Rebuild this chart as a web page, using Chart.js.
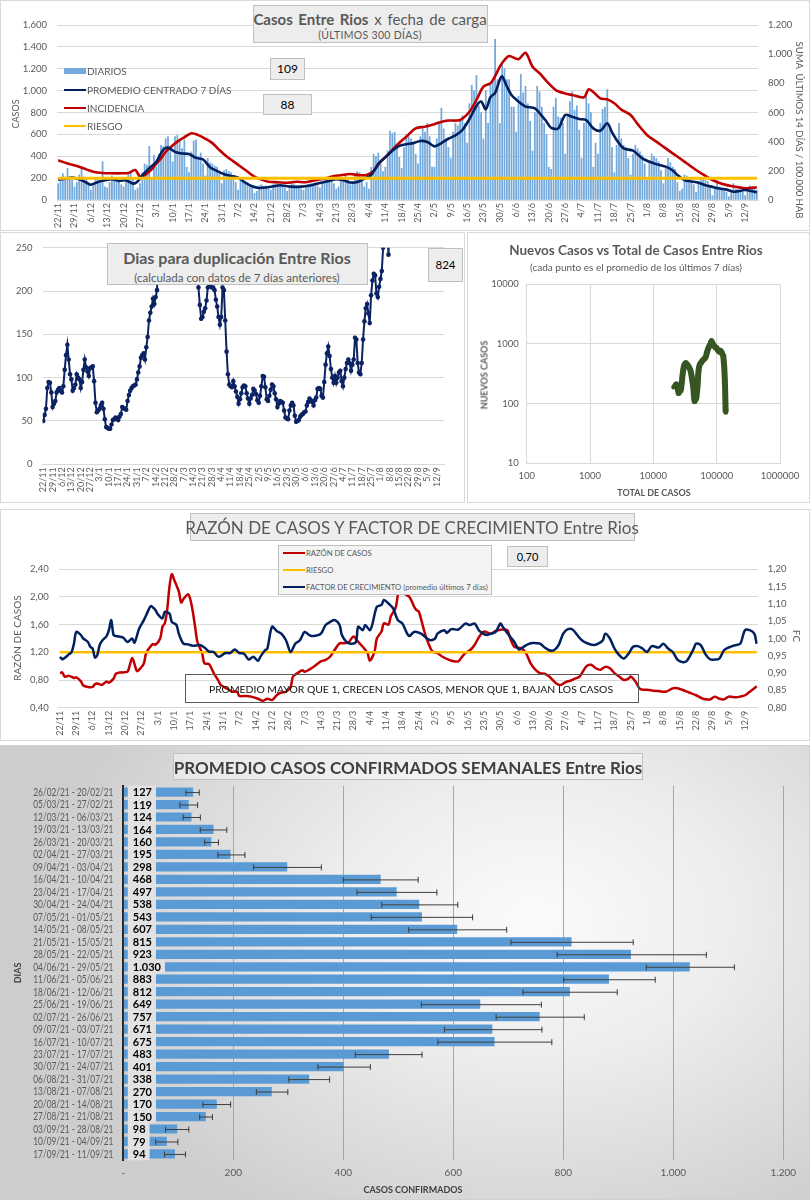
<!DOCTYPE html>
<html lang="es">
<head>
<meta charset="utf-8">
<title>Casos Entre Rios</title>
<script src="https://cdn.jsdelivr.net/npm/chart.js@4.4.1/dist/chart.umd.min.js"></script>
<style>
  html, body { margin:0; padding:0; background:#fff; }
  #page { position:relative; width:810px; height:1200px; overflow:hidden;
          font-family: Lato, "Open Sans", sans-serif; color:#595959; }
</style>
</head>
<body>
<div id="page"></div>
<script>
// ---------- datos ----------

// casos diarios desde el 22/11/2020 (300 dias)
var diarios = [
  150,170,240,210,290,200,180,  120,160,230,300,210,190,140,
  90,130,200,190,180,350,120,   110,160,220,200,190,180,140,
  120,170,230,260,200,90,110,   150,250,330,320,490,200,410,
  300,420,500,490,560,580,460,  350,580,590,540,470,550,300,
  250,440,540,550,400,430,330,  220,380,340,330,310,300,250,
  150,270,280,260,250,220,160,  90,200,190,170,160,140,120,
  60,80,130,140,120,130,100,    90,140,150,160,140,130,110,
  80,120,150,140,130,120,100,   90,120,140,150,140,130,130,
  110,150,190,200,180,190,150,  100,120,170,200,230,180,140,
  150,220,260,250,200,120,160,  100,300,420,400,430,330,260,
  300,450,630,610,620,480,390,  290,480,600,580,560,520,420,
  330,580,650,620,700,580,300,  300,560,700,840,650,560,480,
  380,620,700,680,720,770,700,  520,880,1050,1000,1140,860,800,
  560,1000,700,1050,1080,1470,1100, 700,1250,1200,1100,1100,850,850,
  620,950,1150,980,1040,880,720, 450,800,1040,990,850,700,600,
  300,280,850,930,760,750,700,  420,760,900,990,820,860,640,
  380,700,975,880,800,300,520,  420,700,830,850,1010,650,480,
  250,500,700,560,500,480,380,  230,420,500,470,440,410,330,
  180,340,420,400,380,350,270,  150,290,380,340,300,280,160,
  80,100,230,220,200,190,140,   70,170,200,190,180,170,110,
  40,110,180,120,110,100,70,    30,80,150,100,90,80,70,
  40,100,130,120,110,90
];

// [dia, valor] promedio centrado 7 dias (eje casos)
var promedio7 = [[0,185],[3,195],[6,205],[9,190],[12,160],[14,140],[17,165],[20,180],[23,190],[26,175],[29,180],[32,150],[34,170],[36,225],[39,290],[42,350],[45,460],[47,480],[50,440],[53,425],[56,420],[59,385],[62,370],[65,300],[68,265],[71,235],[74,220],[77,205],[80,160],[83,125],[86,110],[89,115],[92,125],[95,135],[98,125],[101,120],[104,122],[107,130],[110,145],[113,160],[116,175],[119,190],[122,180],[125,160],[128,165],[131,195],[134,230],[137,330],[140,390],[143,450],[146,495],[149,510],[152,520],[155,540],[158,530],[161,490],[164,520],[167,560],[170,590],[173,640],[176,740],[179,860],[181,900],[183,830],[185,940],[187,980],[189,1100],[190,1130],[192,1040],[194,960],[197,900],[200,855],[204,838],[207,770],[209,716],[211,660],[214,655],[217,777],[220,760],[223,740],[226,731],[229,655],[232,634],[235,701],[237,620],[239,549],[242,472],[246,451],[250,381],[255,335],[260,305],[263,270],[265,229],[268,183],[271,170],[274,158],[277,135],[280,120],[283,105],[286,95],[289,76],[292,85],[294,91],[297,80],[299,70]];

// [dia, valor] incidencia: suma 14 dias / 100.000 hab (eje derecho)
var incidencia = [[0,272],[4,250],[8,233],[12,210],[15,194],[19,185],[23,183],[27,183],[30,185],[33,205],[35,160],[37,170],[40,210],[42,250],[44,285],[46,330],[48,360],[51,400],[54,430],[57,458],[60,445],[63,420],[66,390],[69,343],[72,300],[75,265],[78,230],[81,195],[84,160],[87,140],[90,125],[94,122],[98,118],[102,125],[106,122],[110,135],[115,150],[118,165],[121,170],[125,178],[129,170],[132,171],[135,200],[138,263],[141,309],[145,377],[149,434],[153,491],[157,503],[161,520],[166,544],[172,549],[176,605],[179,686],[182,777],[185,800],[187,850],[189,914],[191,960],[193,987],[197,965],[200,1010],[203,914],[206,870],[209,815],[213,754],[217,730],[220,720],[225,704],[227,759],[229,740],[232,697],[235,690],[238,663],[241,620],[245,583],[248,520],[252,446],[256,400],[260,354],[263,320],[266,286],[270,240],[273,206],[277,165],[280,137],[284,112],[288,96],[292,85],[295,80],[299,88]];

var riesgoCasos = [[0,200],[299,200]];

// [dia, dias para duplicacion]
var duplicacion = [[0,50],[1,57],[2,64],[3,88],[4,95],[5,94],[6,83],[7,66],[8,70],[9,73],[10,83],[11,86],[12,88],[13,85],[14,83],[15,90],[16,109],[17,126],[18,138],[19,121],[20,104],[21,98],[22,85],[23,88],[24,92],[25,104],[26,100],[27,98],[28,88],[29,95],[30,109],[31,121],[32,112],[33,107],[34,102],[35,111],[36,112],[37,113],[38,96],[39,71],[40,60],[41,62],[42,64],[43,68],[44,71],[45,64],[46,52],[47,43],[48,42],[49,41],[50,41],[51,46],[52,51],[53,52],[54,54],[55,53],[56,51],[57,55],[58,58],[59,66],[60,65],[61,64],[62,63],[63,73],[64,80],[65,85],[66,88],[67,90],[68,91],[69,92],[70,98],[71,106],[72,113],[73,123],[74,126],[75,128],[76,121],[77,135],[78,147],[79,166],[80,175],[81,182],[82,191],[83,185],[84,193],[85,201],[86,250],[87,290],[90,380],[95,450],[100,500],[105,480],[110,420],[114,320],[116,204],[117,184],[118,168],[119,170],[120,176],[121,180],[122,189],[123,204],[124,210],[125,206],[126,204],[127,204],[128,201],[129,190],[130,182],[131,170],[132,161],[133,170],[134,204],[135,201],[136,166],[137,130],[138,104],[139,92],[140,90],[141,89],[142,96],[143,90],[144,84],[145,78],[146,70],[147,75],[148,82],[149,89],[150,91],[151,90],[152,82],[153,76],[154,70],[155,76],[156,80],[157,87],[158,85],[159,81],[160,74],[161,71],[162,79],[163,90],[164,102],[165,101],[166,89],[167,75],[168,73],[169,79],[170,86],[171,92],[172,90],[173,82],[174,75],[175,66],[176,70],[177,73],[178,72],[179,71],[180,62],[181,54],[182,53],[183,52],[184,62],[185,68],[186,71],[187,68],[188,56],[189,49],[190,50],[191,51],[192,55],[193,57],[194,58],[195,60],[196,61],[197,68],[198,72],[199,76],[200,74],[201,72],[202,68],[203,74],[204,77],[205,87],[206,88],[207,87],[208,79],[209,77],[210,95],[211,115],[212,128],[213,136],[214,125],[215,110],[216,100],[217,94],[218,102],[219,94],[220,100],[221,106],[222,108],[223,96],[224,90],[225,100],[226,110],[227,117],[228,121],[229,117],[230,108],[231,115],[232,121],[233,146],[234,144],[235,117],[236,106],[237,104],[238,117],[239,144],[240,165],[241,180],[242,185],[243,174],[244,163],[245,195],[246,212],[247,220],[248,218],[249,197],[250,193],[251,205],[252,214],[253,223],[254,250],[255,285],[256,320],[257,275],[258,242],[259,290],[260,340]];

// [total de casos, nuevos casos]
var nuevosVsTotal = [[21000,190],[22000,195],[22800,210],[23500,200],[24300,175],[25000,150],[25600,160],[26300,175],[27000,165],[27800,200],[28700,280],[29800,380],[31000,450],[32500,480],[34000,460],[35500,430],[37000,400],[38500,360],[40000,300],[41300,240],[42300,200],[43200,160],[44000,125],[44800,110],[45600,115],[46400,125],[47200,120],[48000,130],[49000,160],[50000,200],[51000,300],[52500,400],[54500,460],[57000,490],[60000,530],[63500,560],[67000,600],[71000,750],[75000,880],[79000,980],[83000,1120],[87000,1000],[91000,940],[95000,880],[100000,850],[105000,780],[110000,740],[115000,770],[120000,720],[124000,660],[127000,640],[129500,500],[131500,420],[133000,330],[134500,250],[135800,180],[136800,130],[137600,100],[138300,80],[138800,72]];

// [dia, razon de casos] (eje izquierdo)
var razon = [[0,0.90],[1,0.91],[2,0.85],[4,0.86],[6,0.83],[7,0.84],[9,0.78],[10,0.72],[12,0.70],[14,0.70],[15,0.74],[16,0.75],[18,0.73],[20,0.78],[21,0.76],[23,0.82],[24,0.89],[26,0.91],[27,0.91],[29,0.92],[30,1.02],[31,1.12],[32,1.03],[33,0.93],[34,0.95],[36,1.04],[37,1.19],[39,1.29],[40,1.32],[41,1.31],[43,1.40],[44,1.57],[45,1.62],[46,1.81],[47,2.15],[48,2.33],[49,2.25],[51,2.08],[52,1.92],[53,1.97],[55,2.04],[56,1.96],[57,1.79],[58,1.57],[59,1.35],[61,1.19],[62,1.04],[64,1.03],[66,0.90],[68,0.79],[69,0.73],[72,0.67],[74,0.63],[76,0.63],[77,0.57],[80,0.57],[82,0.56],[85,0.53],[87,0.50],[89,0.53],[91,0.51],[93,0.58],[95,0.62],[97,0.63],[99,0.70],[100,0.85],[102,0.90],[104,0.94],[105,0.92],[107,0.95],[110,1.02],[112,1.07],[114,1.09],[116,1.14],[118,1.24],[120,1.33],[122,1.33],[124,1.35],[126,1.43],[128,1.35],[130,1.28],[132,1.19],[133,1.08],[135,1.21],[136,1.40],[138,1.50],[139,1.62],[141,1.60],[142,1.72],[144,1.84],[145,2.03],[146,2.25],[147,2.30],[148,2.05],[150,2.00],[152,1.86],[153,1.81],[154,1.79],[156,1.55],[157,1.43],[159,1.26],[160,1.21],[162,1.19],[164,1.14],[167,1.09],[169,1.07],[171,1.07],[172,1.11],[174,1.19],[176,1.23],[178,1.31],[180,1.43],[182,1.50],[185,1.47],[187,1.51],[190,1.53],[192,1.52],[193,1.43],[195,1.28],[198,1.26],[200,1.19],[202,1.04],[204,0.95],[206,0.90],[208,0.89],[210,0.85],[213,0.75],[215,0.73],[217,0.77],[219,0.79],[221,0.82],[223,0.85],[226,1.00],[228,1.02],[230,0.97],[232,0.95],[234,0.99],[236,0.97],[238,0.90],[240,0.85],[242,0.80],[244,0.82],[245,0.85],[247,0.78],[249,0.67],[252,0.66],[254,0.65],[257,0.64],[260,0.63],[263,0.68],[265,0.68],[267,0.66],[270,0.62],[273,0.58],[276,0.53],[279,0.52],[281,0.56],[283,0.53],[285,0.52],[287,0.56],[290,0.55],[292,0.56],[294,0.58],[296,0.63],[298,0.68],[299,0.71]];

// [dia, factor de crecimiento] (eje derecho)
var factor = [[0,0.947],[1,0.94],[4,0.955],[5,0.961],[6,0.985],[7,1.019],[9,1.01],[10,1.0],[12,0.99],[13,0.976],[14,0.971],[15,0.945],[16,0.952],[17,0.98],[18,0.993],[20,1.007],[21,1.024],[22,1.053],[23,1.01],[24,1.007],[27,1.003],[29,0.99],[31,1.0],[32,0.988],[34,1.029],[36,1.053],[38,1.082],[39,1.094],[41,1.082],[42,1.07],[44,1.058],[45,1.077],[47,1.072],[48,1.048],[50,1.039],[51,1.014],[53,0.985],[55,0.983],[57,0.979],[60,0.981],[62,0.974],[64,0.962],[66,0.961],[68,0.947],[71,0.958],[73,0.958],[75,0.968],[77,0.958],[79,0.956],[81,0.939],[83,0.947],[85,0.935],[86,0.947],[88,0.966],[89,0.971],[91,1.034],[93,1.022],[95,1.014],[97,0.995],[99,0.961],[101,0.985],[103,0.995],[105,1.019],[107,1.01],[109,1.007],[112,1.014],[114,1.039],[116,1.048],[118,1.053],[120,1.039],[121,1.01],[123,0.99],[125,0.985],[127,0.99],[128,1.034],[130,1.024],[131,1.039],[133,1.024],[134,1.039],[136,1.092],[138,1.097],[139,1.111],[141,1.101],[143,1.087],[145,1.053],[147,1.043],[149,1.014],[150,1.007],[152,1.019],[155,1.014],[157,1.003],[159,0.995],[161,1.0],[162,1.014],[165,1.024],[166,1.016],[168,1.027],[171,1.026],[174,1.043],[176,1.039],[178,1.043],[180,1.022],[183,1.01],[185,1.014],[187,1.019],[189,1.043],[190,1.034],[193,1.007],[195,0.99],[197,0.968],[199,0.976],[201,0.984],[203,0.987],[206,0.985],[208,0.974],[210,0.966],[212,0.966],[214,0.981],[216,1.014],[218,1.027],[220,1.026],[222,1.01],[224,0.995],[226,0.987],[229,0.981],[231,0.985],[233,0.995],[234,1.014],[236,1.0],[238,0.971],[240,0.952],[242,0.942],[244,0.956],[246,0.976],[248,0.978],[250,0.971],[252,0.961],[254,0.978],[257,0.974],[259,0.985],[261,0.971],[263,0.961],[265,0.939],[267,0.932],[269,0.935],[272,0.971],[273,0.985],[275,0.981],[277,0.955],[279,0.94],[281,0.939],[283,0.942],[285,0.966],[287,0.974],[290,0.981],[292,0.985],[294,1.024],[296,1.024],[298,1.014],[299,0.985]];

var riesgoRazon = [[0,1.2],[299,1.2]];

// promedio semanal
var semanasRango = ['26/02/21 - 20/02/21','05/03/21 - 27/02/21','12/03/21 - 06/03/21','19/03/21 - 13/03/21','26/03/21 - 20/03/21','02/04/21 - 27/03/21','09/04/21 - 03/04/21','16/04/21 - 10/04/21','23/04/21 - 17/04/21','30/04/21 - 24/04/21','07/05/21 - 01/05/21','14/05/21 - 08/05/21','21/05/21 - 15/05/21','28/05/21 - 22/05/21','04/06/21 - 29/05/21','11/06/21 - 05/06/21','18/06/21 - 12/06/21','25/06/21 - 19/06/21','02/07/21 - 26/06/21','09/07/21 - 03/07/21','16/07/21 - 10/07/21','23/07/21 - 17/07/21','30/07/21 - 24/07/21','06/08/21 - 31/07/21','13/08/21 - 07/08/21','20/08/21 - 14/08/21','27/08/21 - 21/08/21','03/09/21 - 28/08/21','10/09/21 - 04/09/21','17/09/21 - 11/09/21'];
var promedioSemanal = [127,119,124,164,160,195,298,468,497,538,543,607,815,923,1030,883,812,649,757,671,675,483,401,338,270,170,150,98,79,94];
var errorMin = [113,102,108,139,147,171,236,399,424,469,450,518,704,788,950,800,726,541,677,583,571,421,353,300,241,144,138,76,58,74];
var errorMax = [139,136,141,189,174,222,361,537,571,609,636,698,928,1061,1112,968,899,761,839,762,780,544,450,376,300,196,163,120,100,114];

// ticks
var ticksCasos = [0,200,400,600,800,1000,1200,1400,1600];
var ticksIncid = [0,200,400,600,800,1000,1200];
var ticksDup = [0,50,100,150,200,250];
var ticksTotal = [100,1000,10000,100000,1000000];
var ticksNuevos = [10,100,1000,10000];
var ticksRazon = [0.4,0.6,0.8,1.0,1.2,1.4,1.6,1.8,2.0,2.2,2.4];
var ticksFC = [0.80,0.85,0.90,0.95,1.00,1.05,1.10,1.15,1.20];
var ticksSemanal = [0,200,400,600,800,1000,1200];

// fechas de 22/11 en adelante
var fechas = [];
var inicio = Date.UTC(2020, 10, 22);
for (var i = 0; i < 300; i++) {
  var d = new Date(inicio + i * 86400000);
  fechas.push(d.getUTCDate() + '/' + (d.getUTCMonth() + 1));
}
var ticksSemana = [];
for (var i = 0; i < 300; i += 7) ticksSemana.push(i);

// ---------- utilidades ----------
var page = document.getElementById('page');
var FONT = 'Lato';
var GRIS = '#595959';

function miles(v) { return String(v).replace(/\B(?=(\d{3})+(?!\d))/g, '.'); }
function coma(v) { return v.toFixed(2).replace('.', ','); }
function pts(a) { return a.map(function (p) { return {x: p[0], y: p[1]}; }); }

function caja(x, y, w, h, css, html) {
  var d = document.createElement('div');
  d.style.cssText = 'position:absolute;box-sizing:border-box;left:' + x + 'px;top:' + y + 'px;width:' + w + 'px;height:' + h + 'px;' + (css || '');
  if (html !== undefined) d.innerHTML = html;
  page.appendChild(d);
  return d;
}
function texto(html, cx, cy, css, rot) {
  var d = document.createElement('div');
  d.style.cssText = 'position:absolute;white-space:nowrap;left:' + cx + 'px;top:' + cy + 'px;transform:translate(-50%,-50%)' + (rot ? ' rotate(' + rot + 'deg)' : '') + ';' + (css || '');
  d.innerHTML = html;
  page.appendChild(d);
  return d;
}
function leyenda(x, cy, color, h, label, fs) {
  caja(x, cy - h / 2, 22, h, 'background:' + color);
  var d = document.createElement('div');
  d.style.cssText = 'position:absolute;white-space:nowrap;left:' + (x + 23) + 'px;top:' + cy + 'px;transform:translateY(-50%);font-size:' + fs + 'px;color:' + GRIS + ';';
  d.textContent = label;
  page.appendChild(d);
}
function lienzo(x, y, w, h) {
  var c = document.createElement('canvas');
  c.width = w; c.height = h;
  c.style.cssText = 'position:absolute;left:' + x + 'px;top:' + y + 'px;width:' + w + 'px;height:' + h + 'px;';
  page.appendChild(c);
  return c;
}
function fijos(lista) { return function (s) { s.ticks = lista.map(function (v) { return {value: v}; }); }; }

function ejeFechas(alto) {
  return {
    type: 'linear', min: -0.5, max: 299.5, offset: false,
    afterBuildTicks: fijos(ticksSemana),
    afterFit: function (s) { s.height = alto; },
    grid: {display: false, drawTicks: false, offset: false},
    border: {color: '#d9d9d9'},
    ticks: {autoSkip: false, minRotation: 90, maxRotation: 90, padding: 3, color: GRIS,
            font: {size: 9, family: FONT}, callback: function (v) { return fechas[v]; }}
  };
}
function ejeY(pos, ancho, min, max, lista, fmt, enArea) {
  return {
    type: 'linear', position: pos, min: min, max: max,
    afterBuildTicks: fijos(lista),
    afterFit: function (s) { s.width = ancho; },
    grid: {color: '#d9d9d9', drawTicks: false, drawOnChartArea: enArea},
    border: {display: false},
    ticks: {padding: 10, color: GRIS, font: {size: 9.5, family: FONT}, callback: fmt}
  };
}
var base = {responsive: false, animation: false,
            plugins: {legend: {display: false}, tooltip: {enabled: false}}};
function opciones(extra) { return Object.assign({}, base, extra); }

// ---------- paneles ----------
caja(0, 0, 810, 231, 'border:1px solid #d9d9d9;');
caja(0, 232, 465, 271, 'border:1px solid #d9d9d9;');
caja(467, 232, 343, 271, 'border:1px solid #d9d9d9;');
caja(0, 509, 810, 232, 'border:1px solid #d9d9d9;');
caja(0, 745, 810, 455, 'border:1px solid #d0d0d0;background:radial-gradient(ellipse 62% 78% at 66% 38%, #fbfbfb 0%, #ededed 40%, #cdcdcd 100%);');

// ---------- 1: casos diarios ----------
new Chart(lienzo(0, 0, 810, 232), {
  type: 'bar',
  data: {datasets: [
    {type: 'line', data: pts(riesgoCasos), yAxisID: 'y', borderColor: '#ffc000', borderWidth: 3, pointRadius: 0, order: 0},
    {type: 'line', data: pts(promedio7), yAxisID: 'y', borderColor: '#002060', borderWidth: 2.6, pointRadius: 0, tension: 0.3, order: 1},
    {type: 'line', data: pts(incidencia), yAxisID: 'y2', borderColor: '#c00000', borderWidth: 2.6, pointRadius: 0, tension: 0.3, order: 2},
    {type: 'bar', data: diarios.map(function (v, i) { return {x: i, y: v}; }), yAxisID: 'y',
     backgroundColor: '#74a9dc', barThickness: 1.1, order: 3}
  ]},
  options: opciones({
    layout: {padding: {top: 25}},
    scales: {
      x: ejeFechas(32),
      y: ejeY('left', 57, 0, 1600, ticksCasos, miles, true),
      y2: ejeY('right', 52, 0, 1200, ticksIncid, miles, false)
    }
  })
});

// ---------- 2: dias para duplicacion ----------
new Chart(lienzo(0, 232, 465, 271), {
  type: 'line',
  data: {datasets: [
    {data: pts(duplicacion), borderColor: '#0b2263', backgroundColor: '#0b2263', borderWidth: 2,
     pointRadius: 2.3, pointBorderWidth: 0, pointBackgroundColor: '#0b2263'}
  ]},
  options: opciones({
    layout: {padding: {top: 13, right: 21}},
    scales: {
      x: ejeFechas(38.7),
      y: ejeY('left', 42.6, 0, 250, ticksDup, function (v) { return v; }, true)
    }
  })
});

// ---------- 3: nuevos vs total ----------
new Chart(lienzo(467, 232, 343, 271), {
  type: 'scatter',
  data: {datasets: [
    {data: pts(nuevosVsTotal), showLine: true, borderColor: '#375623', borderWidth: 6,
     pointRadius: 2.5, pointBorderWidth: 0, pointBackgroundColor: '#375623', tension: 0.2}
  ]},
  options: opciones({
    layout: {padding: {top: 52.3, right: 30}},
    scales: {
      x: {type: 'logarithmic', min: 100, max: 1000000, afterBuildTicks: fijos(ticksTotal),
          afterFit: function (s) { s.height = 39.7; },
          grid: {color: '#d9d9d9', drawTicks: false}, border: {color: '#d9d9d9'},
          ticks: {padding: 7, color: GRIS, font: {size: 9.5, family: FONT}, callback: function (v) { return String(v); }}},
      y: {type: 'logarithmic', min: 10, max: 10000, afterBuildTicks: fijos(ticksNuevos),
          afterFit: function (s) { s.width = 59.7; },
          grid: {color: '#d9d9d9', drawTicks: false}, border: {color: '#d9d9d9'},
          ticks: {padding: 8, color: GRIS, font: {size: 9.5, family: FONT}, callback: function (v) { return String(v); }}}
    }
  })
});

// ---------- 4: razon de casos y factor de crecimiento ----------
new Chart(lienzo(0, 510, 810, 230), {
  type: 'line',
  data: {datasets: [
    {data: pts(factor), yAxisID: 'y2', borderColor: '#002060', borderWidth: 2.5, pointRadius: 0, tension: 0.3, order: 0},
    {data: pts(riesgoRazon), yAxisID: 'y', borderColor: '#ffc000', borderWidth: 2.5, pointRadius: 0, order: 1},
    {data: pts(razon), yAxisID: 'y', borderColor: '#c00000', borderWidth: 2.5, pointRadius: 0, tension: 0.3, order: 2}
  ]},
  options: opciones({
    layout: {padding: {top: 59.3}},
    scales: {
      x: ejeFechas(32.3),
      y: ejeY('left', 58.8, 0.4, 2.4, ticksRazon, coma, true),
      y2: ejeY('right', 52.2, 0.8, 1.2, ticksFC, coma, false)
    }
  })
});

// ---------- 5: promedio semanal ----------
var etiquetasBarras = {
  id: 'etiquetasBarras',
  afterDatasetsDraw: function (chart) {
    var ctx = chart.ctx, xs = chart.scales.x, ys = chart.scales.y, meta = chart.getDatasetMeta(0);
    ctx.save();
    ctx.textBaseline = 'middle';
    meta.data.forEach(function (bar, i) {
      var y = bar.y;
      // rango de semanas (comprimido al ancho del eje)
      ctx.font = '10.5px ' + FONT;
      ctx.fillStyle = GRIS;
      ctx.textAlign = 'right';
      ctx.fillText(semanasRango[i], ys.right - 10, y + 0.5, 80);
      // valor sobre la base de la barra
      var txt = miles(promedioSemanal[i]);
      ctx.font = 'bold 11px ' + FONT;
      var w = ctx.measureText(txt).width;
      ctx.fillStyle = '#e2e2e2';
      ctx.fillRect(xs.left + 4.5, y - 6.3, w + 9, 12.6);
      ctx.fillStyle = '#000';
      ctx.textAlign = 'left';
      ctx.fillText(txt, xs.left + 9.5, y + 0.5);
      // barra de error
      var a = xs.getPixelForValue(errorMin[i]), b = xs.getPixelForValue(errorMax[i]);
      ctx.strokeStyle = '#3f3f3f';
      ctx.lineWidth = 1;
      ctx.beginPath();
      ctx.moveTo(a, y + 0.5); ctx.lineTo(b, y + 0.5);
      ctx.moveTo(a + 0.5, y - 2.5); ctx.lineTo(a + 0.5, y + 3.5);
      ctx.moveTo(b - 0.5, y - 2.5); ctx.lineTo(b - 0.5, y + 3.5);
      ctx.stroke();
    });
    ctx.restore();
  }
};
new Chart(lienzo(0, 745, 810, 455), {
  type: 'bar',
  data: {labels: semanasRango, datasets: [
    {data: promedioSemanal, backgroundColor: '#5b9bd5', barPercentage: 0.74, categoryPercentage: 1}
  ]},
  options: opciones({
    indexAxis: 'y',
    layout: {padding: {top: 40.8, right: 26.7}},
    scales: {
      x: {type: 'linear', min: 0, max: 1200, afterBuildTicks: fijos(ticksSemanal),
          afterFit: function (s) { s.height = 39.8; },
          grid: {color: '#a6a6a6', drawTicks: false}, border: {display: false},
          ticks: {padding: 7, color: GRIS, font: {size: 10, family: FONT},
                  callback: function (v) { return v === 0 ? '-' : miles(v); }}},
      y: {afterFit: function (s) { s.width = 123.3; },
          grid: {display: false, drawTicks: false}, border: {color: '#262626', width: 2},
          ticks: {display: false}}
    }
  }),
  plugins: [etiquetasBarras]
});

// ---------- textos y cajas ----------
var cajaGris = 'background:#ededed;border:1px solid #bfbfbf;';

// grafico 1
caja(253, 5, 235, 38, cajaGris);
texto('<b>Casos Entre Rios</b> x fecha de carga', 370, 19, 'font-size:15px;color:' + GRIS + ';word-spacing:2px;');
texto('(ÚLTIMOS 300 DÍAS)', 370, 35, 'font-size:10.5px;color:' + GRIS + ';letter-spacing:0.3px;');
caja(270, 58, 35, 22, cajaGris + 'font-size:12px;color:#000;line-height:20px;text-align:center;', '109');
caja(263, 94, 49, 21, cajaGris + 'font-size:12px;color:#000;line-height:19px;text-align:center;', '88');
leyenda(64, 71, '#74a9dc', 6, 'DIARIOS', 10);
leyenda(64, 90, '#002060', 2.5, 'PROMEDIO CENTRADO 7 DÍAS', 10);
leyenda(64, 108, '#c00000', 2.5, 'INCIDENCIA', 10);
leyenda(64, 126, '#ffc000', 2.5, 'RIESGO', 10);
texto('CASOS', 15, 114, 'font-size:9px;color:' + GRIS + ';', -90);
texto('SUMA&nbsp; ÚLTIMOS 14 DÍAS / 100.000 HAB', 799, 130, 'font-size:9.5px;color:' + GRIS + ';', 90);

// grafico 2
caja(107, 243, 261, 42, cajaGris);
texto('<b>Dias para duplicación Entre Rios</b>', 237, 257, 'font-size:16px;color:' + GRIS + ';');
texto('(calculada con datos de 7 días anteriores)', 237, 277, 'font-size:11.5px;color:' + GRIS + ';');
caja(428, 248, 35, 34, cajaGris + 'font-size:11.5px;color:#000;line-height:32px;text-align:center;', '824');

// grafico 3
texto('<b>Nuevos Casos vs Total de Casos Entre Rios</b>', 636, 250, 'font-size:13.5px;color:' + GRIS + ';');
texto('(cada punto es el promedio de los últimos 7 días)', 636, 267, 'font-size:10px;color:' + GRIS + ';');
texto('<b>NUEVOS CASOS</b>', 484, 375, 'font-size:9px;color:' + GRIS + ';', -90);
texto('<b>TOTAL DE CASOS</b>', 654, 492, 'font-size:9px;color:' + GRIS + ';');

// grafico 4
caja(190, 513, 445, 28, cajaGris);
texto('RAZÓN DE CASOS Y FACTOR DE CRECIMIENTO Entre Rios', 412, 527, 'font-size:17px;color:' + GRIS + ';');
caja(278, 545, 214, 50, 'background:#f4f4f4;border:1px solid #bfbfbf;');
leyenda(283, 553, '#c00000', 2, 'RAZÓN DE CASOS', 7.7);
leyenda(283, 570, '#ffc000', 2, 'RIESGO', 7.7);
leyenda(283, 587, '#002060', 2, 'FACTOR DE CRECIMIENTO (promedio últimos 7 días)', 7.7);
caja(507, 546, 41, 21, cajaGris + 'font-size:11px;color:#000;line-height:19px;text-align:center;', '0,70');
caja(185, 674, 454, 29, 'border:1px solid #595959;');
texto('PROMEDIO MAYOR QUE 1, CRECEN LOS CASOS, MENOR QUE 1, BAJAN LOS CASOS', 411, 689, 'font-size:10.4px;color:#111;');
texto('RAZÓN DE CASOS', 17, 638, 'font-size:10px;color:' + GRIS + ';', -90);
texto('FC', 797, 636, 'font-size:10px;color:' + GRIS + ';', 90);

// grafico 5
caja(173, 753, 470, 27, 'background:rgba(245,245,245,0.6);border:1px solid #bfbfbf;');
texto('<b>PROMEDIO CASOS CONFIRMADOS SEMANALES Entre Rios</b>', 408, 767, 'font-size:17px;color:#404040;');
texto('<b>CASOS CONFIRMADOS</b>', 413, 1189, 'font-size:9px;color:#404040;');
texto('<b>DIAS</b>', 17, 973, 'font-size:9px;color:#404040;', -90);
</script>
</body>
</html>
